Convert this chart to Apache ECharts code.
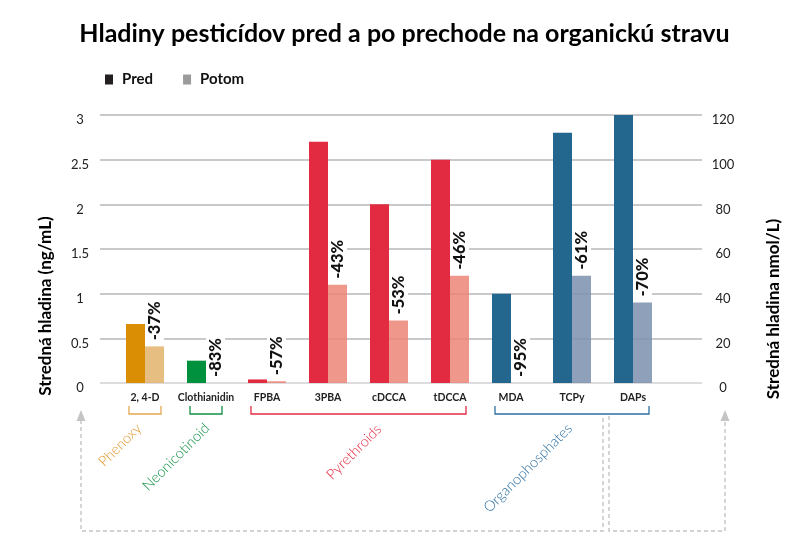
<!DOCTYPE html>
<html><head><meta charset="utf-8">
<script src="https://cdn.jsdelivr.net/npm/echarts@6/dist/echarts.min.js"></script>
<style>html,body{margin:0;padding:0;background:#fff}#c{width:809px;height:549px}</style>
</head><body><div id="c"></div>
<script>
// ---- data ----
const categories = ['2, 4-D', 'Clothianidin', 'FPBA', '3PBA', 'cDCCA', 'tDCCA', 'MDA', 'TCPy', 'DAPs'];
// left axis (ng/mL): first six compounds
const predLeft  = [0.66, 0.25, 0.04, 2.7, 2.0, 2.5, '-', '-', '-'];
const potomLeft = [0.41, 0,    0.02, 1.1, 0.7, 1.2, '-', '-', '-'];
// right axis (nmol/L): last three compounds
const predRight  = ['-', '-', '-', '-', '-', '-', 40, 112, 120];
const potomRight = ['-', '-', '-', '-', '-', '-', 0,  48,  36];
const changes = ['-37%', '-83%', '-57%', '-43%', '-53%', '-46%', '-95%', '-61%', '-70%'];
const leftTicks = [0, 0.5, 1, 1.5, 2, 2.5, 3];
const rightTicks = [0, 20, 40, 60, 80, 100, 120];
const groupNames = ['Phenoxy', 'Neonicotinoid', 'Pyrethroids', 'Organophosphates'];
const groupFrom = [0, 1, 2, 6];
const groupTo   = [0, 1, 5, 8];
const titleText = 'Hladiny pesticídov pred a po prechode na organickú stravu';
const leftTitle = 'Stredná hladina (ng/mL)';
const rightTitle = 'Stredná hladina nmol/L)';

// ---- styles ----
const catGroup = [0, 1, 2, 2, 2, 2, 3, 3, 3];
const predCol  = ['#D98E04', '#00913F', '#E22A41', '#23668E'];
const potomCol = ['rgba(226,179,108,0.85)', 'rgba(0,145,63,0.5)', 'rgba(237,133,119,0.85)', 'rgba(123,144,174,0.85)'];
const groupTextCol = ['#E09A30', '#129245', '#E22A41', '#2C6FA2'];
const bracketCol = ['#E2A850', '#129245', '#E22A41', '#2C6FA2'];
const FONT = 'Lato, "Open Sans", sans-serif';

const chart = echarts.init(document.getElementById('c'), null, {renderer: 'canvas'});

const pctLabel = {
  show: true, position: 'top', distance: 4, rotate: 90, align: 'left', verticalAlign: 'middle',
  formatter: p => changes[p.dataIndex],
  fontFamily: FONT, fontWeight: 900, fontSize: 16.5, color: '#111',
  backgroundColor: '#fff', padding: [1, 2, 1, 2]
};

const tickLabel = {align: 'center', verticalAlign: 'top', lineHeight: 10, fontFamily: FONT, fontSize: 13, color: '#222'};

chart.setOption({
  animation: false,
  backgroundColor: '#fff',
  title: {text: titleText, left: 'center', top: 16,
    textStyle: {fontFamily: FONT, fontWeight: 'bold', fontSize: 25, color: '#000'}},
  legend: {
    left: 100, top: 67, icon: 'rect', itemWidth: 8, itemHeight: 10, itemGap: 30, selectedMode: false,
    textStyle: {fontFamily: FONT, fontWeight: 'bold', fontSize: 15, color: '#111', padding: [0, 0, 0, 4]},
    data: [{name: 'Pred', itemStyle: {color: '#231F20'}}, {name: 'Potom', itemStyle: {color: '#9B9B9B'}}]
  },
  grid: [
    {left: 100, right: 107, top: 115, bottom: 166},
    {left: 114.5, right: 145.5, top: 115, bottom: 166}
  ],
  xAxis: [
    {gridIndex: 0, type: 'category', data: [''], show: false},
    {gridIndex: 1, type: 'category', data: categories,
      axisLine: {show: false}, axisTick: {show: false},
      axisLabel: {margin: 9, fontFamily: FONT, fontWeight: 'bold', fontSize: 10.5, color: '#222', interval: 0}},
    {gridIndex: 1, type: 'category', data: categories, show: false}
  ],
  yAxis: [
    {gridIndex: 0, type: 'value', position: 'left', min: leftTicks[0], max: leftTicks[leftTicks.length - 1],
      interval: leftTicks[1] - leftTicks[0],
      axisLine: {show: false}, axisTick: {show: false},
      axisLabel: Object.assign({margin: 20}, tickLabel),
      splitLine: {lineStyle: {color: ['#d2d2d4', '#b7b7bb', '#b7b7bb', '#b7b7bb', '#b7b7bb', '#b7b7bb', '#b7b7bb'], width: 1.5}}},
    {gridIndex: 0, type: 'value', position: 'right', min: rightTicks[0], max: rightTicks[rightTicks.length - 1],
      interval: rightTicks[1] - rightTicks[0],
      axisLine: {show: false}, axisTick: {show: false}, splitLine: {show: false},
      axisLabel: Object.assign({margin: 21}, tickLabel)},
    {gridIndex: 1, type: 'value', position: 'left', min: leftTicks[0], max: leftTicks[leftTicks.length - 1], show: false, splitLine: {show: false}},
    {gridIndex: 1, type: 'value', position: 'right', min: rightTicks[0], max: rightTicks[rightTicks.length - 1], show: false, splitLine: {show: false}}
  ],
  series: [
    {name: 'Pred', type: 'bar', xAxisIndex: 1, yAxisIndex: 2, data: predLeft, barWidth: 19, barGap: '0%',
      itemStyle: {color: p => predCol[catGroup[p.dataIndex]]}},
    {name: 'Potom', type: 'bar', xAxisIndex: 1, yAxisIndex: 2, data: potomLeft, barWidth: 19, barGap: '0%',
      itemStyle: {color: p => potomCol[catGroup[p.dataIndex]]}, label: pctLabel},
    {name: 'Pred', type: 'bar', xAxisIndex: 2, yAxisIndex: 3, data: predRight, barWidth: 19, barGap: '0%',
      itemStyle: {color: p => predCol[catGroup[p.dataIndex]]}},
    {name: 'Potom', type: 'bar', xAxisIndex: 2, yAxisIndex: 3, data: potomRight, barWidth: 19, barGap: '0%',
      itemStyle: {color: p => potomCol[catGroup[p.dataIndex]]}, label: pctLabel}
  ]
});

// ---- annotations (brackets, group names, dashed arrows) ----
const px = i => chart.convertToPixel({xAxisIndex: 1}, i);
const g = [];
const bTop = 406, bBot = 414;
const labelOffset = [[-25, 445], [-30, 457], [87, 452], [17, 468]];
for (let k = 0; k < groupNames.length; k++) {
  const x1 = px(groupFrom[k]) - 16, x2 = px(groupTo[k]) + 16;
  g.push({type: 'polyline', shape: {points: [[x1, bTop], [x1, bBot], [x2, bBot], [x2, bTop]]},
    style: {stroke: bracketCol[k], lineWidth: 1.3, fill: null}});
  g.push({type: 'text', x: px(groupFrom[k]) + labelOffset[k][0], y: labelOffset[k][1], rotation: Math.PI / 4,
    style: {text: groupNames[k], fill: groupTextCol[k], font: '300 14.5px ' + FONT, textAlign: 'center', textVerticalAlign: 'middle'}});
}
const dash = {stroke: '#c4c4c4', lineWidth: 1.4, lineDash: [4, 3], fill: null};
g.push({type: 'polyline', shape: {points: [[81, 420], [81, 531], [603, 531], [603, 416]]}, style: dash});
g.push({type: 'polyline', shape: {points: [[609, 416], [609, 531], [725, 531], [725, 420]]}, style: dash});
g.push({type: 'polygon', shape: {points: [[81, 410], [76.5, 421], [85.5, 421]]}, style: {fill: '#c4c4c4'}});
g.push({type: 'polygon', shape: {points: [[725, 410], [720.5, 421], [729.5, 421]]}, style: {fill: '#c4c4c4'}});
g.push({type: 'text', x: 46, y: 306, rotation: Math.PI / 2,
  style: {text: leftTitle, font: 'bold 17px ' + FONT, fill: '#000', textAlign: 'center', textVerticalAlign: 'middle'}});
g.push({type: 'text', x: 774, y: 309, rotation: Math.PI / 2,
  style: {text: rightTitle, font: 'bold 17px ' + FONT, fill: '#000', textAlign: 'center', textVerticalAlign: 'middle'}});
chart.setOption({graphic: {elements: g}});
</script>
</body></html>
